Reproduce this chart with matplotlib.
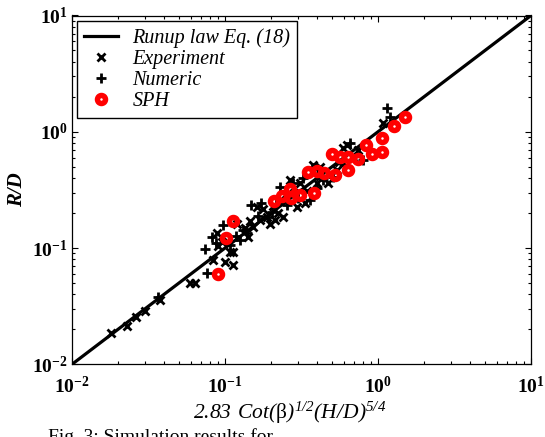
import numpy as np
import matplotlib
matplotlib.use("Agg")
import matplotlib.pyplot as plt
from matplotlib.ticker import LogLocator, FixedLocator, FixedFormatter, NullFormatter

plt.rcParams["font.family"] = ["Liberation Serif", "DejaVu Serif"]
plt.rcParams["mathtext.fontset"] = "custom"
plt.rcParams["mathtext.rm"] = "Liberation Serif:italic"
plt.rcParams["mathtext.sf"] = "Liberation Serif"
plt.rcParams["mathtext.bf"] = "Liberation Serif:bold"

# runup law R/D = 2.83 cot(beta)^1/2 (H/D)^5/4
law_x = [1e-2, 1e1]

# experiment (x markers)
exp_x = [0.0181, 0.0228, 0.0262, 0.030, 0.0375, 0.059, 0.0636, 0.0839, 0.100,
         0.113, 0.108, 0.0882, 0.0952, 0.113, 0.142, 0.153, 0.161, 0.169, 0.187,
         0.212, 0.223, 0.240, 0.266, 0.309, 0.294, 0.333, 0.397, 0.470, 0.378,
         0.418, 0.537, 0.625, 0.593, 0.690, 1.08, 0.090, 0.120, 0.135, 0.146,
         0.178, 0.196, 0.205, 0.250, 0.283, 0.345, 0.420, 0.560, 0.740]
exp_y = [0.0185, 0.0214, 0.0254, 0.0288, 0.0358, 0.0498, 0.0498, 0.079, 0.0764,
         0.0716, 0.093, 0.134, 0.1135, 0.093, 0.125, 0.153, 0.227, 0.175, 0.186,
         0.175, 0.199, 0.186, 0.385, 0.360, 0.227, 0.243, 0.360, 0.360, 0.518,
         0.500, 0.470, 0.770, 0.720, 0.611, 1.18, 0.104, 0.160, 0.150, 0.170,
         0.215, 0.160, 0.230, 0.260, 0.300, 0.310, 0.420, 0.550, 0.700]

# numeric (+ markers)
num_x = [0.0366, 0.0759, 0.074, 0.0873, 0.0818, 0.0975, 0.108, 0.125, 0.132,
         0.149, 0.173, 0.202, 0.229, 0.279, 0.324, 0.360, 0.440, 0.510, 0.656,
         0.800, 1.15, 1.20, 0.118, 0.140, 0.165, 0.190, 0.215, 0.255, 0.300,
         0.400, 0.600]
num_y = [0.0382, 0.0607, 0.0977, 0.111, 0.125, 0.158, 0.106, 0.117, 0.143,
         0.235, 0.243, 0.206, 0.337, 0.360, 0.398, 0.259, 0.385, 0.411, 0.796,
         0.572, 1.59, 1.35, 0.128, 0.135, 0.190, 0.185, 0.240, 0.235, 0.270,
         0.330, 0.520]

# SPH runs (red circles)
sph_x = [1.50, 1.28, 1.06, 1.06, 0.914, 0.84, 0.736, 0.64, 0.64, 0.565, 0.502,
         0.521, 0.444, 0.397, 0.349, 0.383, 0.309, 0.266, 0.27, 0.235, 0.209,
         0.112, 0.102, 0.0904]
sph_y = [1.33, 1.13, 0.89, 0.675, 0.64, 0.766, 0.587, 0.611, 0.47, 0.604, 0.64,
         0.423, 0.44, 0.457, 0.449, 0.299, 0.288, 0.324, 0.271, 0.282, 0.252,
         0.172, 0.123, 0.0595]

decade_ticks = [1e-2, 1e-1, 1e0, 1e1]
decade_labels = [r"$\mathbf{10^{-2}}$", r"$\mathbf{10^{-1}}$",
                 r"$\mathbf{10^{0}}$", r"$\mathbf{10^{1}}$"]

fig = plt.figure(figsize=(5.45, 4.37), dpi=100)
ax = fig.add_axes([72 / 545, 1 - 364.3 / 437, 459 / 545, 348.8 / 437])

ax.plot(law_x, law_x, color="black", lw=2.3, label="Runup law Eq. (18)", zorder=2)
ax.plot(exp_x, exp_y, ls="none", marker="x", ms=5.5, mew=2.0, color="black",
        label="Experiment", zorder=3)
ax.plot(num_x, num_y, ls="none", marker="+", ms=7, mew=2.0, color="black",
        label="Numeric", zorder=3)
ax.plot(sph_x, sph_y, ls="none", marker="o", ms=5.8, mew=3.9, mec="red",
        mfc="none", label="SPH", zorder=4)

ax.set_xscale("log")
ax.set_yscale("log")
ax.set_xlim(1e-2, 1e1)
ax.set_ylim(1e-2, 1e1)

for axis in (ax.xaxis, ax.yaxis):
    axis.set_major_locator(FixedLocator(decade_ticks))
    axis.set_major_formatter(FixedFormatter(decade_labels))
    axis.set_minor_locator(LogLocator(base=10, subs=np.arange(2, 10), numticks=20))
    axis.set_minor_formatter(NullFormatter())

ax.tick_params(which="both", direction="in", top=True, right=True, width=0.8)
ax.tick_params(which="major", length=4, labelsize=14)
ax.tick_params(axis="x", which="major", pad=8)
ax.tick_params(axis="y", which="major", pad=3)
ax.tick_params(which="minor", length=2.5)
for s in ax.spines.values():
    s.set_linewidth(0.9)

ax.set_xlabel(r"$\mathrm{2.83\ Cot(}\mathsf{\beta}\mathrm{)^{1/2}(H/D)^{5/4}}$",
              fontsize=15.5)
ax.xaxis.set_label_coords(0.475, -0.102)
ax.set_ylabel("R/D", fontsize=15, fontstyle="italic", fontweight="bold")
ax.yaxis.set_label_coords(-0.098, 0.5)

leg = ax.legend(loc="upper left", bbox_to_anchor=(5 / 459, 1 - 5.5 / 349),
                borderaxespad=0, fancybox=False, edgecolor="black", framealpha=1,
                prop={"family": "Liberation Serif", "style": "italic", "size": 14.5},
                handlelength=1.7, handletextpad=0.7, labelspacing=0.1,
                borderpad=0.35)
leg.get_frame().set_linewidth(1.0)

fig.text(48 / 545, 1 - 428 / 437, "Fig. 3: Simulation results for", fontsize=14,
         va="top", ha="left")

fig.savefig("out.png", dpi=100)
